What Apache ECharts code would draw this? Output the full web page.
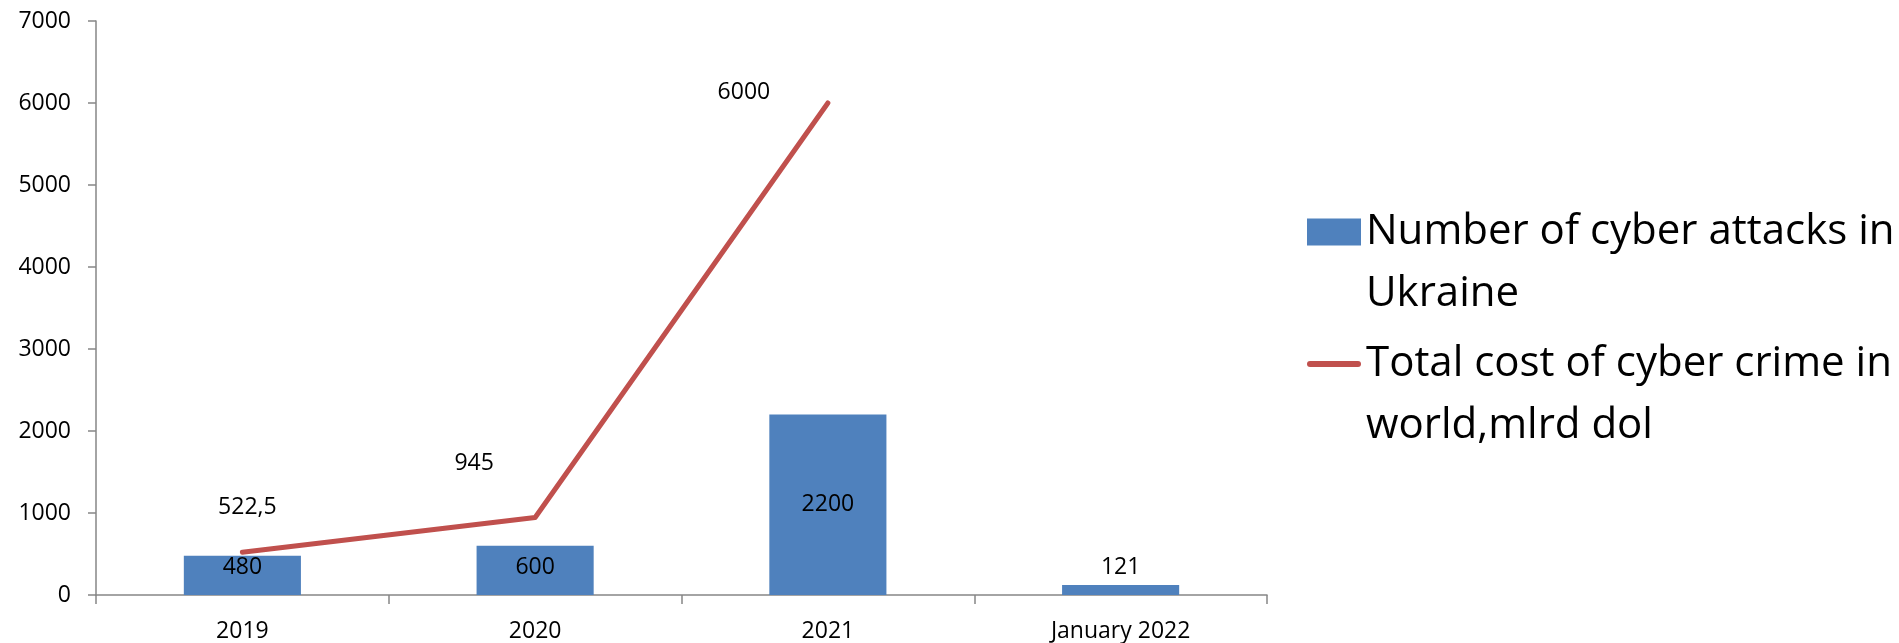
<!DOCTYPE html>
<html>
<head>
<meta charset="utf-8">
<script src="https://cdn.jsdelivr.net/npm/echarts@6/dist/echarts.min.js"></script>
<style>
html,body{margin:0;padding:0;background:#fff;}
#chart{width:1899px;height:643px;}
</style>
</head>
<body>
<div id="chart"></div>
<script>
const categories = ['2019', '2020', '2021', 'January 2022'];
const attacks = [480, 600, 2200, 121];
const costs = [522.5, 945, 6000, null];
const attacksName = 'Number of cyber attacks in Ukraine';
const costsName = 'Total cost of cyber crime in world,mlrd dol';
const yTicks = [0, 1000, 2000, 3000, 4000, 5000, 6000, 7000];

const FONT = 'Open Sans';
const lineLabelOffsets = [[5, -45], [-61, -54], [-84, -11], [0, 0]];

const chart = echarts.init(document.getElementById('chart'));
const option = {
  animation: false,
  textStyle: { fontFamily: FONT },
  grid: { left: 96, top: 21, right: 632, bottom: 47.5, containLabel: false },
  legend: {
    orient: 'vertical',
    left: 1307,
    top: 139,
    padding: 0,
    itemWidth: 54,
    itemHeight: 27,
    itemGap: -54,
    selectedMode: false,
    data: [
      { name: attacksName, icon: 'rect' },
      { name: costsName, icon: 'path://M3,0 L51,0 A3,3 0 0 1 51,6 L3,6 A3,3 0 0 1 3,0 Z' }
    ],
    formatter: function (name) {
      if (name === attacksName) return '\nNumber of cyber attacks in\nUkraine';
      return '\nTotal cost of cyber crime in\nworld,mlrd dol';
    },
    textStyle: { fontFamily: FONT, fontSize: 42, color: '#000', lineHeight: 62 }
  },
  xAxis: {
    type: 'category',
    data: categories,
    axisLine: { lineStyle: { color: '#868686', width: 1.5 } },
    axisTick: { show: true, length: 9, alignWithLabel: false, lineStyle: { color: '#868686', width: 1.5 } },
    axisLabel: { color: '#000', fontSize: 23, fontFamily: FONT, margin: 25 }
  },
  yAxis: {
    type: 'value',
    min: yTicks[0],
    max: yTicks[yTicks.length - 1],
    interval: 1000,
    splitLine: { show: false },
    axisLine: { show: true, lineStyle: { color: '#868686', width: 1.5 } },
    axisTick: { show: true, length: 8, lineStyle: { color: '#868686', width: 1.5 } },
    axisLabel: {
      color: '#000', fontSize: 23, fontFamily: FONT, margin: 25,
      formatter: function (v) { return String(v); }
    }
  },
  series: [
    {
      name: attacksName,
      type: 'bar',
      barWidth: '40%',
      itemStyle: { color: '#4F81BD' },
      data: attacks.map(function (v) {
        return v >= 1000
          ? { value: v, label: { position: 'inside' } }
          : { value: v, label: { position: 'insideBottom', distance: 16 } };
      }),
      label: { show: true, color: '#000', fontSize: 23, fontFamily: FONT }
    },
    {
      name: costsName,
      type: 'line',
      symbol: 'circle',
      symbolSize: 1,
      showSymbol: true,
      itemStyle: { color: '#C0504D' },
      lineStyle: { color: '#C0504D', width: 5, cap: 'round', join: 'round' },
      data: costs.map(function (v, i) {
        return { value: v, label: { offset: lineLabelOffsets[i] } };
      }),
      label: {
        show: true,
        position: 'inside',
        color: '#000',
        fontSize: 23,
        fontFamily: FONT,
        formatter: function (p) { return String(p.value).replace('.', ','); }
      },
      z: 5
    }
  ]
};
chart.setOption(option);
</script>
</body>
</html>
